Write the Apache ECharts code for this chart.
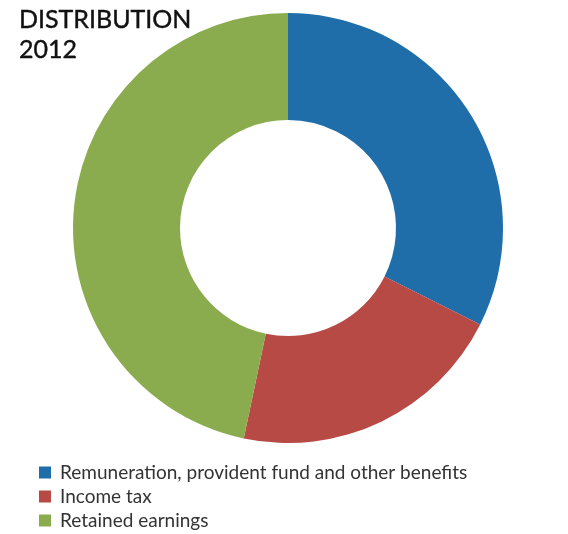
<!DOCTYPE html>
<html><head><meta charset="utf-8">
<script src="https://cdn.jsdelivr.net/npm/echarts@6/dist/echarts.min.js"></script>
<style>html,body{margin:0;padding:0;background:#fff}#c{width:568px;height:534px}</style>
</head><body><div id="c"></div>
<script>
const categories = ["Remuneration, provident fund and other benefits", "Income tax", "Retained earnings"];
const values = [32.4, 20.9, 46.7];
const colors = ["#1f6ea9", "#b84a45", "#8aab4e"];
const titleText = "DISTRIBUTION\n2012";

const chart = echarts.init(document.getElementById('c'), null, {renderer: 'canvas'});
chart.setOption({
  animation: false,
  backgroundColor: '#fff',
  title: {
    text: titleText, left: 14, top: 0,
    textStyle: {fontFamily: 'Lato', fontSize: 25, fontWeight: 'normal', color: '#111', lineHeight: 30, textBorderColor: '#111', textBorderWidth: 0.4}
  },
  legend: {
    orient: 'vertical', left: 34, top: 458, height: 90,
    icon: 'rect', itemWidth: 12, itemHeight: 12, itemGap: 5,
    textStyle: {fontFamily: 'Lato', fontSize: 19, color: '#333', lineHeight: 15, padding: [0,0,0,4]},
    data: categories
  },
  series: [{
    type: 'pie', center: [288, 228], radius: [108, 215], startAngle: 90, clockwise: true,
    label: {show: false}, labelLine: {show: false}, silent: true,
    data: categories.map((n, i) => ({name: n, value: values[i], itemStyle: {color: colors[i]}}))
  }]
});
</script></body></html>
